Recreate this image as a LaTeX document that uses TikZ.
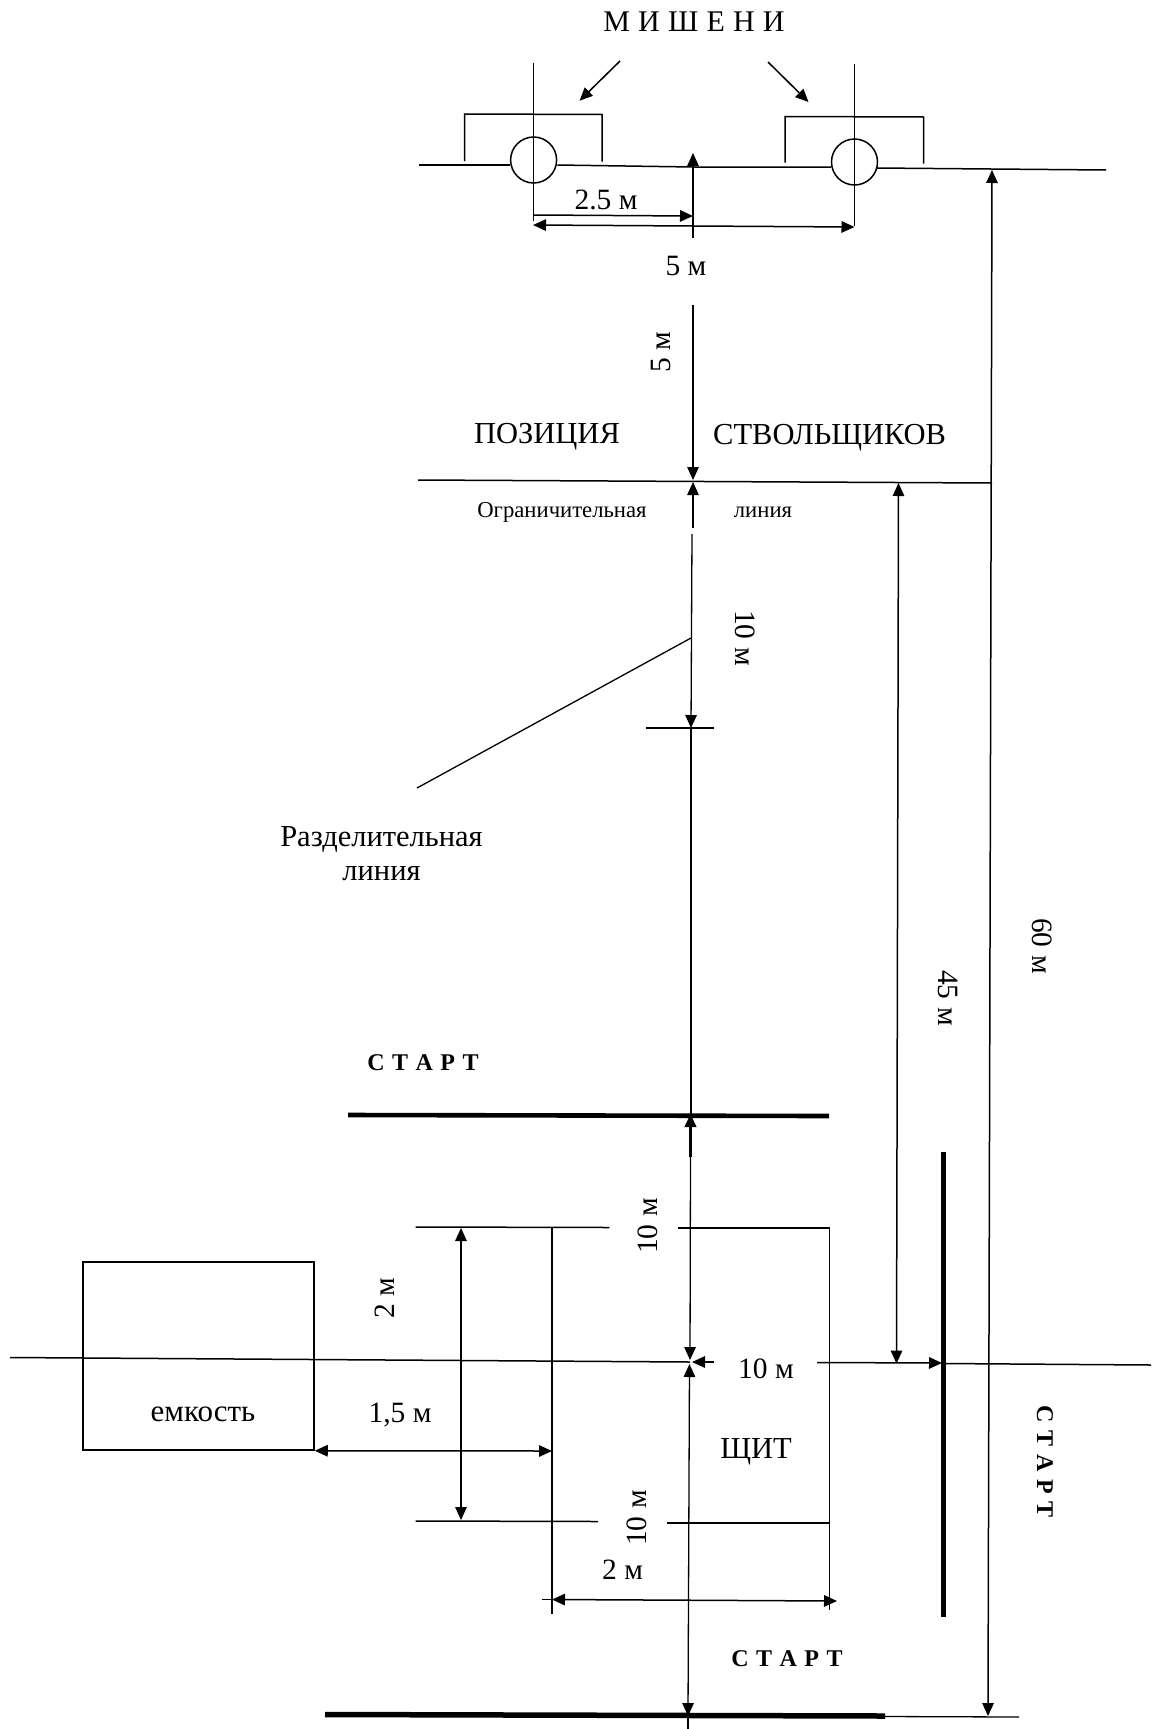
\documentclass[tikz,border=0pt]{standalone}
\usepackage{fontspec}
\setmainfont{Liberation Serif}
\usetikzlibrary{arrows.meta}
\newcommand{\wideA}[1]{{\spaceskip=8.2pt\relax #1}}
\newcommand{\wideB}[1]{{\spaceskip=7.5pt\relax #1}}
\tikzset{
  tip/.tip={Triangle[length=13pt,width=11.5pt]},
  ln/.style={line width=1.5pt,line cap=butt},
  thin ln/.style={line width=1.3pt},
  heavy/.style={line width=4.6pt},
  dbl/.style={line width=1.5pt,{tip}-{tip}},
  fwd/.style={line width=1.5pt,-{tip}},
  bwd/.style={line width=1.3pt,{tip}-},
  target/.style={draw,circle,line width=1.5pt,minimum size=46pt,inner sep=0pt},
  lab/.style={inner sep=0pt,font=\fontsize{29.5}{30}\selectfont},
  big/.style={inner sep=0pt,font=\fontsize{30.5}{31}\selectfont},
  small/.style={inner sep=0pt,font=\fontsize{22.7}{23}\selectfont},
  start/.style={inner sep=0pt,font=\fontsize{24}{24}\selectfont\bfseries},
  rl/.style={rotate=90},
  rr/.style={rotate=-90},
}
\begin{document}
\begin{tikzpicture}[x=1pt,y=-1pt]
\useasboundingbox (0,0) rectangle (1151,1729);
\fill[white] (0,0) rectangle (1151,1729);

% targets
\node[target] (c1) at (533.6,160) {};
\node[target] (c2) at (854.5,162) {};
\coordinate (la) at (419,165);
\coordinate (lm) at (693,167);
\coordinate (lr) at (876,168);
\coordinate (lb) at (1106,170);
\draw[ln] (la) -- (c1.west|-la);
\draw[ln] (c1.east|-la) -- (lm) -- (c2.west|-lm);
\draw[ln] (lr) -- (lb);
\draw[thin ln] (533.6,62.5) -- (533.6,221);
\draw[thin ln] (854.5,64) -- (854.5,226);
\draw[ln] (464.6,161) -- (464.6,114) -- (602,114.5) -- (602,161.5);
\draw[ln] (785,162.5) -- (785,116.5) -- (923.5,117) -- (923.5,163.5);
\node[inner sep=0pt,font=\fontsize{30}{30}\selectfont] (mish) at (694,22) {\wideA{М И Ш Е Н И}};
\draw[fwd] (620,61) -- (579.6,100.7);
\draw[fwd] (768,62) -- (808.5,102);

% centre line, upper part
\draw[bwd] (693,153) -- (693,237.5);
\draw[fwd] (533.6,215) -- (693,216);
\draw[dbl] (533,225) -- (854.5,227);
\node[lab] (d25) at (606,200) {2.5 м};
\node[lab] (d5a) at (686,266) {5 м};
\node[lab,rl] (d5b) at (661,352) {5 м};
\draw[thin ln,-{tip}] (693,304.6) -- (693,480);

% restricting line
\draw[ln] (418,480) -- (992,483);
\node[big] (poz) at (547,437) {ПОЗИЦИЯ};
\node[big] (stv) at (829.6,438) {СТВОЛЬЩИКОВ};
\node[small] (ogr) at (562,512.5) {Ограничительная};
\node[small] (lin) at (763,512.5) {линия};
\draw[bwd] (693,482) -- (693,528);

% dividing line and 10 m
\draw[thin ln,-{tip}] (692,534) -- (691,728);
\draw[thin ln] (646,728) -- (714,728);
\draw[thin ln] (691,638) -- (417,788);
\node[lab,rr] (d10a) at (745,638) {10 м};
\node[big] (razd) at (381.5,839) {Разделительная};
\node[big] (razl) at (381.5,874) {линия};

% long dimensions
\draw[dbl] (992,170) -- (988,1716);
\draw[dbl] (898.5,483) -- (896.5,1363.6);
\node[lab,rr] (d60) at (1042,946) {60 м};
\node[lab,rr] (d45) at (948,998) {45 м};

% start line 1
\node[start] (st1) at (423,1063) {\wideB{С Т А Р Т}};
\draw[heavy] (348,1115) -- (829,1116);
\draw[thin ln] (691,728) -- (691,1114);
\draw[line width=2.4pt,{tip}-] (690.5,1114) -- (690.5,1157);
\draw[thin ln,-{tip}] (690.5,1157) -- (690,1360);
\node[lab,rl] (d10b) at (648,1226) {10 м};

% shield
\draw[ln] (415.6,1227) -- (609.4,1227.5);
\draw[ln] (678,1228) -- (829.7,1228) -- (829.7,1610);
\draw[thin ln] (552,1227) -- (552,1614);
\draw[ln] (415.6,1521) -- (598,1521.5);
\draw[ln] (667,1523) -- (829.7,1523);
\draw[dbl] (461,1228) -- (461,1520);
\node[lab,rl] (d2a) at (385,1298) {2 м};
\node[big] (shch) at (756,1452) {ЩИТ};
\node[lab,rl] (d10c) at (637,1518) {10 м};
\node[lab] (d2b) at (622.6,1570) {2 м};
\draw[dbl] (552,1599.5) -- (837,1601);
\draw[ln] (542,1599.5) -- (552,1599.5);

% tank
\node[draw,line width=1.5pt,minimum width=231pt,minimum height=188pt,inner sep=0pt] (tank) at (198.5,1356) {};
\node[inner sep=0pt,font=\fontsize{31}{31}\selectfont] (emk) at (203,1414) {емкость};
\node[lab] (d15) at (400,1415) {1,5 м};
\draw[dbl] (tank.south east) -- (552,1451);

% horizontal axis
\draw[ln] (10,1357.5) -- (690,1362);
\draw[fwd] (714,1362) -- (692,1362);
\node[lab] (d10d) at (766,1369) {10 м};
\draw[fwd] (817,1362.5) -- (942,1363);
\draw[ln] (943,1363.5) -- (1151,1365);
\draw[heavy] (943.5,1152) -- (943.5,1616.7);
\node[start,rr] (st2) at (1045,1461.5) {\wideB{С Т А Р Т}};

% lower centre line
\draw[thin ln,{tip}-{tip}] (689.5,1364) -- (688,1716);
\draw[thin ln] (688,1716) -- (688,1729);
\node[start] (st3) at (787,1659) {\wideB{С Т А Р Т}};
\draw[heavy,line width=5.5pt] (325,1714.5) -- (885,1716);
\draw[thin ln] (885,1716.5) -- (1019,1717);
\end{tikzpicture}
\end{document}
